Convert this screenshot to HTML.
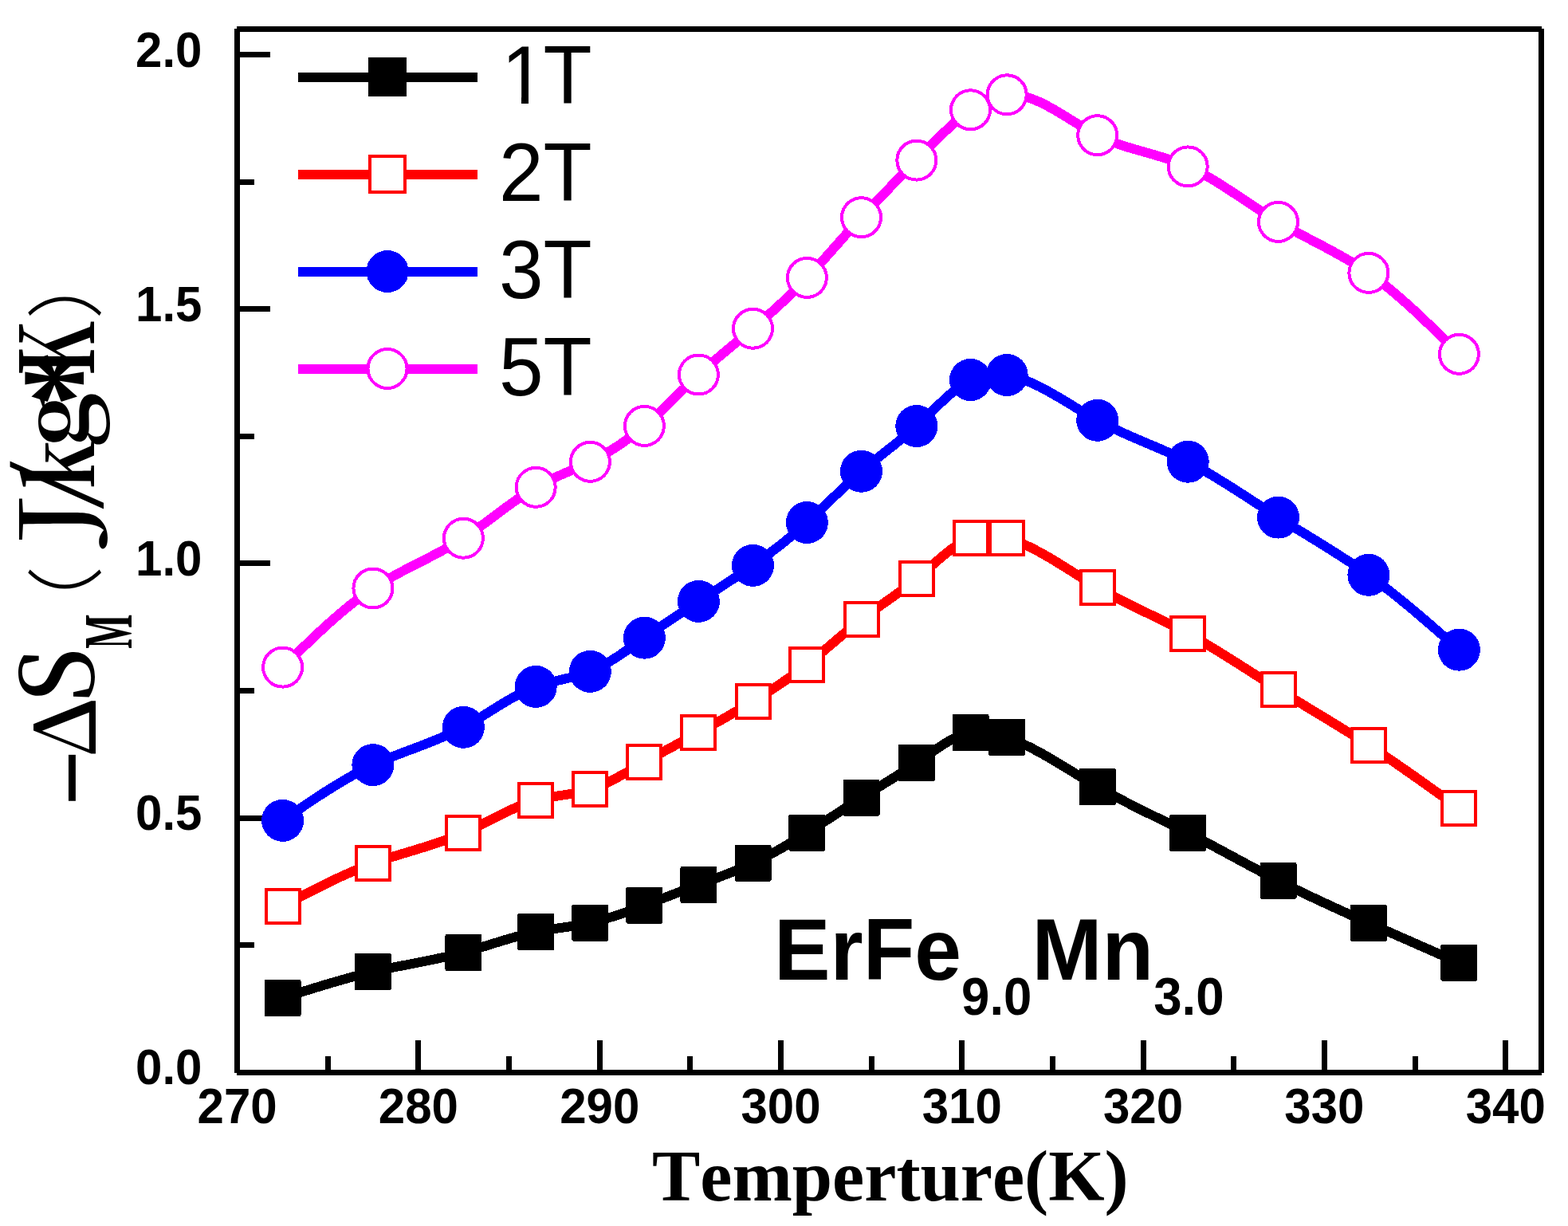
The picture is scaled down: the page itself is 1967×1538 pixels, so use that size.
<!DOCTYPE html>
<html><head><meta charset="utf-8"><title>ErFe9.0Mn3.0 entropy change</title>
<style>
html,body{margin:0;padding:0;background:#fff;}
body{width:1967px;height:1538px;overflow:hidden;}
svg{display:block;font-kerning:none;}
.ce{shape-rendering:crispEdges;}
.tk{font-family:"Liberation Sans",Arial,sans-serif;font-weight:bold;font-size:60px;fill:#000;}
.lg{font-family:"Liberation Sans",Arial,sans-serif;font-size:100px;fill:#000;}
.smp{font-family:"Liberation Sans",Arial,sans-serif;font-weight:bold;font-size:104px;fill:#000;}
.xt{font-family:"Liberation Serif","Times New Roman",serif;font-weight:bold;font-size:90px;fill:#000;}
.ys{font-family:"Liberation Serif","Times New Roman",serif;fill:#000;}
.yb{font-family:"Liberation Serif","Times New Roman",serif;font-weight:bold;fill:#000;}
.yp{font-family:"Noto Sans CJK SC","Noto Sans CJK JP",sans-serif;font-weight:300;fill:#000;}
</style></head>
<body>
<svg width="1967" height="1538" viewBox="0 0 1967 1538">
<rect width="1967" height="1538" fill="#fff"/>
<g class="ce">
<g fill="#000">
<rect x="294" y="36" width="7" height="1310"/>
<rect x="1930" y="36" width="7" height="1310"/>
<rect x="297" y="33" width="1637" height="7"/>
<rect x="297" y="1342" width="1637" height="7"/>
<rect x="407.7" y="1325" width="7" height="17"/>
<rect x="521.4" y="1305" width="7" height="37"/>
<rect x="635.0" y="1325" width="7" height="17"/>
<rect x="748.7" y="1305" width="7" height="37"/>
<rect x="862.3" y="1325" width="7" height="17"/>
<rect x="976.0" y="1305" width="7" height="37"/>
<rect x="1089.6" y="1325" width="7" height="17"/>
<rect x="1203.2" y="1305" width="7" height="37"/>
<rect x="1316.9" y="1325" width="7" height="17"/>
<rect x="1430.5" y="1305" width="7" height="37"/>
<rect x="1544.2" y="1325" width="7" height="17"/>
<rect x="1657.8" y="1305" width="7" height="37"/>
<rect x="1771.5" y="1325" width="7" height="17"/>
<rect x="1885.2" y="1305" width="7" height="37"/>
<rect x="301" y="1182.0" width="18" height="7"/>
<rect x="301" y="1022.5" width="38" height="7"/>
<rect x="301" y="862.9" width="18" height="7"/>
<rect x="301" y="703.4" width="38" height="7"/>
<rect x="301" y="543.9" width="18" height="7"/>
<rect x="301" y="384.4" width="38" height="7"/>
<rect x="301" y="224.8" width="18" height="7"/>
<rect x="301" y="65.3" width="38" height="7"/>
</g>
<path d="M354.6,1252.0 C392.3,1239.8 430.1,1227.7 467.9,1219.0 C505.7,1210.3 543.5,1205.2 581.4,1194.9 C611.6,1186.7 641.9,1175.1 672.2,1169.0 C694.9,1164.4 717.7,1162.8 740.4,1157.8 C763.1,1152.8 785.7,1144.4 808.4,1135.8 C831.1,1127.2 853.7,1118.3 876.4,1109.9 C899.1,1101.5 921.8,1093.4 944.5,1082.8 C967.1,1072.2 989.7,1059.1 1012.4,1044.8 C1035.1,1030.5 1057.8,1015.1 1080.5,1000.8 C1103.6,986.3 1126.7,973.0 1149.8,957.0 C1172.3,941.4 1195.0,923.2 1217.5,918.9 C1232.8,916.0 1248.0,919.3 1263.2,924.8 C1301.0,938.4 1338.9,965.2 1376.7,987.0 C1414.5,1008.8 1452.4,1025.6 1490.2,1044.8 C1528.0,1064.0 1565.7,1085.5 1603.5,1104.8 C1641.3,1124.1 1679.1,1141.1 1716.9,1157.9 C1754.7,1174.7 1792.6,1191.2 1830.4,1207.8" fill="none" stroke="#000" stroke-width="12" stroke-linejoin="round"/>
<rect x="331.6" y="1229.0" width="46" height="46" rx="2" fill="#000"/>
<rect x="444.9" y="1196.0" width="46" height="46" rx="2" fill="#000"/>
<rect x="558.4" y="1171.9" width="46" height="46" rx="2" fill="#000"/>
<rect x="649.2" y="1146.0" width="46" height="46" rx="2" fill="#000"/>
<rect x="717.4" y="1134.8" width="46" height="46" rx="2" fill="#000"/>
<rect x="785.4" y="1112.8" width="46" height="46" rx="2" fill="#000"/>
<rect x="853.4" y="1086.9" width="46" height="46" rx="2" fill="#000"/>
<rect x="921.5" y="1059.8" width="46" height="46" rx="2" fill="#000"/>
<rect x="989.4" y="1021.8" width="46" height="46" rx="2" fill="#000"/>
<rect x="1057.5" y="977.8" width="46" height="46" rx="2" fill="#000"/>
<rect x="1126.8" y="934.0" width="46" height="46" rx="2" fill="#000"/>
<rect x="1194.5" y="895.9" width="46" height="46" rx="2" fill="#000"/>
<rect x="1240.2" y="901.8" width="46" height="46" rx="2" fill="#000"/>
<rect x="1353.7" y="964.0" width="46" height="46" rx="2" fill="#000"/>
<rect x="1467.2" y="1021.8" width="46" height="46" rx="2" fill="#000"/>
<rect x="1580.5" y="1081.8" width="46" height="46" rx="2" fill="#000"/>
<rect x="1693.9" y="1134.9" width="46" height="46" rx="2" fill="#000"/>
<rect x="1807.4" y="1184.8" width="46" height="46" rx="2" fill="#000"/>
<path d="M354.6,1136.7 C392.3,1116.7 430.1,1096.8 467.9,1083.0 C505.7,1069.2 543.5,1061.7 581.4,1045.0 C611.6,1031.6 641.9,1012.4 672.2,1004.0 C694.9,997.7 717.7,997.5 740.4,990.3 C763.1,983.2 785.7,969.1 808.4,956.2 C831.1,943.3 853.7,931.5 876.4,919.1 C899.1,906.7 921.8,893.7 944.5,879.9 C967.1,866.1 989.7,851.5 1012.4,833.7 C1035.1,815.8 1057.8,794.6 1080.5,777.1 C1103.6,759.3 1126.7,745.4 1149.8,726.2 C1172.3,707.4 1195.0,683.5 1217.5,675.1 C1232.8,669.4 1248.0,670.8 1263.2,675.1 C1301.0,685.8 1338.9,714.7 1376.7,736.8 C1414.5,758.9 1452.4,774.2 1490.2,794.8 C1528.0,815.3 1565.7,841.1 1603.5,864.8 C1641.3,888.5 1679.1,910.2 1716.9,934.7 C1754.7,959.2 1792.6,986.6 1830.4,1014.0" fill="none" stroke="#f00" stroke-width="12" stroke-linejoin="round"/>
<rect x="333.6" y="1115.7" width="42" height="42" rx="0" fill="#fff" stroke="#f00" stroke-width="4"/>
<rect x="446.9" y="1062.0" width="42" height="42" rx="0" fill="#fff" stroke="#f00" stroke-width="4"/>
<rect x="560.4" y="1024.0" width="42" height="42" rx="0" fill="#fff" stroke="#f00" stroke-width="4"/>
<rect x="651.2" y="983.0" width="42" height="42" rx="0" fill="#fff" stroke="#f00" stroke-width="4"/>
<rect x="719.4" y="969.3" width="42" height="42" rx="0" fill="#fff" stroke="#f00" stroke-width="4"/>
<rect x="787.4" y="935.2" width="42" height="42" rx="0" fill="#fff" stroke="#f00" stroke-width="4"/>
<rect x="855.4" y="898.1" width="42" height="42" rx="0" fill="#fff" stroke="#f00" stroke-width="4"/>
<rect x="923.5" y="858.9" width="42" height="42" rx="0" fill="#fff" stroke="#f00" stroke-width="4"/>
<rect x="991.4" y="812.7" width="42" height="42" rx="0" fill="#fff" stroke="#f00" stroke-width="4"/>
<rect x="1059.5" y="756.1" width="42" height="42" rx="0" fill="#fff" stroke="#f00" stroke-width="4"/>
<rect x="1128.8" y="705.2" width="42" height="42" rx="0" fill="#fff" stroke="#f00" stroke-width="4"/>
<rect x="1196.5" y="654.1" width="42" height="42" rx="0" fill="#fff" stroke="#f00" stroke-width="4"/>
<rect x="1242.2" y="654.1" width="42" height="42" rx="0" fill="#fff" stroke="#f00" stroke-width="4"/>
<rect x="1355.7" y="715.8" width="42" height="42" rx="0" fill="#fff" stroke="#f00" stroke-width="4"/>
<rect x="1469.2" y="773.8" width="42" height="42" rx="0" fill="#fff" stroke="#f00" stroke-width="4"/>
<rect x="1582.5" y="843.8" width="42" height="42" rx="0" fill="#fff" stroke="#f00" stroke-width="4"/>
<rect x="1695.9" y="913.7" width="42" height="42" rx="0" fill="#fff" stroke="#f00" stroke-width="4"/>
<rect x="1809.4" y="993.0" width="42" height="42" rx="0" fill="#fff" stroke="#f00" stroke-width="4"/>
<path d="M354.6,1029.4 C392.3,1003.3 430.1,977.3 467.9,959.6 C505.7,941.9 543.5,932.7 581.4,912.3 C611.6,896.0 641.9,872.5 672.2,861.4 C694.9,853.0 717.7,851.6 740.4,842.4 C763.1,833.2 785.7,816.2 808.4,800.2 C831.1,784.2 853.7,769.1 876.4,754.4 C899.1,739.7 921.8,725.3 944.5,709.4 C967.1,693.5 989.7,676.1 1012.4,655.5 C1035.1,634.8 1057.8,611.0 1080.5,591.3 C1103.6,571.3 1126.7,555.6 1149.8,534.5 C1172.3,513.8 1195.0,487.9 1217.5,476.5 C1232.8,468.9 1248.0,467.8 1263.2,470.5 C1301.0,477.1 1338.9,506.6 1376.7,527.3 C1414.5,548.0 1452.4,559.9 1490.2,579.2 C1528.0,598.5 1565.7,625.2 1603.5,649.1 C1641.3,673.0 1679.1,694.1 1716.9,721.3 C1754.7,748.5 1792.6,781.9 1830.4,815.2" fill="none" stroke="#00f" stroke-width="12" stroke-linejoin="round"/>
<circle cx="354.6" cy="1029.4" r="26.5" fill="#00f"/>
<circle cx="467.9" cy="959.6" r="26.5" fill="#00f"/>
<circle cx="581.4" cy="912.3" r="26.5" fill="#00f"/>
<circle cx="672.2" cy="861.4" r="26.5" fill="#00f"/>
<circle cx="740.4" cy="842.4" r="26.5" fill="#00f"/>
<circle cx="808.4" cy="800.2" r="26.5" fill="#00f"/>
<circle cx="876.4" cy="754.4" r="26.5" fill="#00f"/>
<circle cx="944.5" cy="709.4" r="26.5" fill="#00f"/>
<circle cx="1012.4" cy="655.5" r="26.5" fill="#00f"/>
<circle cx="1080.5" cy="591.3" r="26.5" fill="#00f"/>
<circle cx="1149.8" cy="534.5" r="26.5" fill="#00f"/>
<circle cx="1217.5" cy="476.5" r="26.5" fill="#00f"/>
<circle cx="1263.2" cy="470.5" r="26.5" fill="#00f"/>
<circle cx="1376.7" cy="527.3" r="26.5" fill="#00f"/>
<circle cx="1490.2" cy="579.2" r="26.5" fill="#00f"/>
<circle cx="1603.5" cy="649.1" r="26.5" fill="#00f"/>
<circle cx="1716.9" cy="721.3" r="26.5" fill="#00f"/>
<circle cx="1830.4" cy="815.2" r="26.5" fill="#00f"/>
<path d="M354.6,837.1 C392.3,800.1 430.1,763.1 467.9,738.0 C505.7,712.9 543.5,699.7 581.4,675.2 C611.6,655.6 641.9,628.7 672.2,611.3 C694.9,598.2 717.7,590.4 740.4,579.3 C763.1,568.2 785.7,553.7 808.4,534.4 C831.1,515.1 853.7,490.9 876.4,470.0 C899.1,449.1 921.8,431.4 944.5,412.2 C967.1,393.0 989.7,372.2 1012.4,348.4 C1035.1,324.5 1057.8,297.4 1080.5,272.7 C1103.6,247.6 1126.7,224.8 1149.8,201.1 C1172.3,177.9 1195.0,153.8 1217.5,137.8 C1232.8,127.0 1248.0,119.9 1263.2,118.8 C1301.0,116.1 1338.9,150.7 1376.7,169.7 C1414.5,188.7 1452.4,192.1 1490.2,208.9 C1528.0,225.7 1565.7,255.8 1603.5,278.4 C1641.3,301.0 1679.1,316.0 1716.9,342.4 C1754.7,368.8 1792.6,406.5 1830.4,444.3" fill="none" stroke="#f0f" stroke-width="12" stroke-linejoin="round"/>
<circle cx="354.6" cy="837.1" r="24.5" fill="#fff" stroke="#f0f" stroke-width="4"/>
<circle cx="467.9" cy="738.0" r="24.5" fill="#fff" stroke="#f0f" stroke-width="4"/>
<circle cx="581.4" cy="675.2" r="24.5" fill="#fff" stroke="#f0f" stroke-width="4"/>
<circle cx="672.2" cy="611.3" r="24.5" fill="#fff" stroke="#f0f" stroke-width="4"/>
<circle cx="740.4" cy="579.3" r="24.5" fill="#fff" stroke="#f0f" stroke-width="4"/>
<circle cx="808.4" cy="534.4" r="24.5" fill="#fff" stroke="#f0f" stroke-width="4"/>
<circle cx="876.4" cy="470.0" r="24.5" fill="#fff" stroke="#f0f" stroke-width="4"/>
<circle cx="944.5" cy="412.2" r="24.5" fill="#fff" stroke="#f0f" stroke-width="4"/>
<circle cx="1012.4" cy="348.4" r="24.5" fill="#fff" stroke="#f0f" stroke-width="4"/>
<circle cx="1080.5" cy="272.7" r="24.5" fill="#fff" stroke="#f0f" stroke-width="4"/>
<circle cx="1149.8" cy="201.1" r="24.5" fill="#fff" stroke="#f0f" stroke-width="4"/>
<circle cx="1217.5" cy="137.8" r="24.5" fill="#fff" stroke="#f0f" stroke-width="4"/>
<circle cx="1263.2" cy="118.8" r="24.5" fill="#fff" stroke="#f0f" stroke-width="4"/>
<circle cx="1376.7" cy="169.7" r="24.5" fill="#fff" stroke="#f0f" stroke-width="4"/>
<circle cx="1490.2" cy="208.9" r="24.5" fill="#fff" stroke="#f0f" stroke-width="4"/>
<circle cx="1603.5" cy="278.4" r="24.5" fill="#fff" stroke="#f0f" stroke-width="4"/>
<circle cx="1716.9" cy="342.4" r="24.5" fill="#fff" stroke="#f0f" stroke-width="4"/>
<circle cx="1830.4" cy="444.3" r="24.5" fill="#fff" stroke="#f0f" stroke-width="4"/>
<rect x="374" y="90.50" width="225" height="12" fill="#000"/>
<rect x="462" y="72.00" width="48" height="49" rx="1.5" fill="#000"/>
<rect x="374" y="212.50" width="225" height="12" fill="#f00"/>
<rect x="464" y="196.20" width="44" height="44.6" fill="#fff" stroke="#f00" stroke-width="4"/>
<rect x="374" y="334.50" width="225" height="12" fill="#00f"/>
<circle cx="486.0" cy="340.5" r="26.5" fill="#00f"/>
<rect x="374" y="456.50" width="225" height="12" fill="#f0f"/>
<circle cx="486.0" cy="462.5" r="24.5" fill="#fff" stroke="#f0f" stroke-width="4"/>
</g>
<text class="tk" transform="translate(253.5,84.1) scale(1.0,1.04)" text-anchor="end">2.0</text>
<text class="tk" transform="translate(253.5,403.2) scale(1.0,1.04)" text-anchor="end">1.5</text>
<text class="tk" transform="translate(253.5,722.2) scale(1.0,1.04)" text-anchor="end">1.0</text>
<text class="tk" transform="translate(253.5,1041.3) scale(1.0,1.04)" text-anchor="end">0.5</text>
<text class="tk" transform="translate(253.5,1360.3) scale(1.0,1.04)" text-anchor="end">0.0</text>
<text class="tk" transform="translate(297.6,1409) scale(1.0,1.04)" text-anchor="middle">270</text>
<text class="tk" transform="translate(524.9,1409) scale(1.0,1.04)" text-anchor="middle">280</text>
<text class="tk" transform="translate(752.2,1409) scale(1.0,1.04)" text-anchor="middle">290</text>
<text class="tk" transform="translate(979.5,1409) scale(1.0,1.04)" text-anchor="middle">300</text>
<text class="tk" transform="translate(1206.8,1409) scale(1.0,1.04)" text-anchor="middle">310</text>
<text class="tk" transform="translate(1434.0,1409) scale(1.0,1.04)" text-anchor="middle">320</text>
<text class="tk" transform="translate(1661.4,1409) scale(1.0,1.04)" text-anchor="middle">330</text>
<text class="tk" transform="translate(1888.7,1409) scale(1.0,1.04)" text-anchor="middle">340</text>
<text class="lg" transform="translate(629,129.8) scale(1.0,1.03)">1</text>
<text class="lg" transform="translate(681.6,129.8) scale(1.0,1.03)">T</text>
<rect x="636" y="121.6" width="18" height="9" fill="#fff"/><rect x="663" y="121.6" width="18" height="9" fill="#fff"/>
<text class="lg" transform="translate(626,251.7) scale(1.0,1.03)">2T</text>
<text class="lg" transform="translate(626,373.7) scale(1.0,1.03)">3T</text>
<text class="lg" transform="translate(626,495.7) scale(1.0,1.03)">5T</text>
<text class="smp" transform="translate(971,1229) scale(1.017,1.055)">ErFe<tspan font-size="62.5" dy="42">9.0</tspan><tspan dy="-42">Mn</tspan><tspan font-size="62.5" dy="42">3.0</tspan></text>
<text class="xt" transform="translate(818,1506) scale(1.005,1.0)">Temperture(K)</text>
<g font-size="100" fill="#000">
<text font-family="'Liberation Serif', serif" font-weight="normal" transform="translate(149.80,1010.92) rotate(-90) scale(1.2447,1.8000)">−</text>
<text font-family="'Noto Serif CJK SC', serif" font-weight="600" transform="translate(120.00,950.92) rotate(-90) scale(1.1033,1.0541)">Δ</text>
<text font-family="'Noto Serif CJK SC', serif" font-weight="600" transform="translate(116.70,880.41) rotate(-90) scale(1.1612,1.2506)">S</text>
<text font-family="'Liberation Serif', serif" font-weight="bold" transform="translate(164.80,813.82) rotate(-90) scale(0.4596,0.8738)">M</text>
<text font-family="'Noto Sans CJK SC', sans-serif" font-weight="300" transform="translate(117.97,809.80) rotate(-90) scale(1.0000,0.9702)">（</text>
<text font-family="'Noto Serif CJK SC', serif" font-weight="400" transform="translate(116.97,686.04) rotate(-90) scale(1.6553,1.2736)">J</text>
<text font-family="'Noto Serif CJK SC', serif" font-weight="300" transform="translate(108.35,639.61) rotate(-90) scale(1.8121,1.2500)">/</text>
<text font-family="'Noto Serif CJK SC', serif" font-weight="700" transform="translate(117.70,613.81) rotate(-90) scale(0.9355,1.1427)">k</text>
<text font-family="'Noto Serif CJK SC', serif" font-weight="700" transform="translate(109.04,561.02) rotate(-90) scale(1.1727,1.1099)">g</text>
<text font-family="'Liberation Serif', serif" font-weight="bold" transform="translate(160.11,509.84) rotate(-90) scale(1.4095,1.9432)">*</text>
<text font-family="'Noto Serif CJK SC', serif" font-weight="700" transform="translate(117.80,471.65) rotate(-90) scale(0.8903,1.2649)">K</text>
<text font-family="'Noto Sans CJK SC', sans-serif" font-weight="300" transform="translate(117.97,400.48) rotate(-90) scale(0.9750,0.9702)">）</text>
</g>
</svg>
</body></html>
